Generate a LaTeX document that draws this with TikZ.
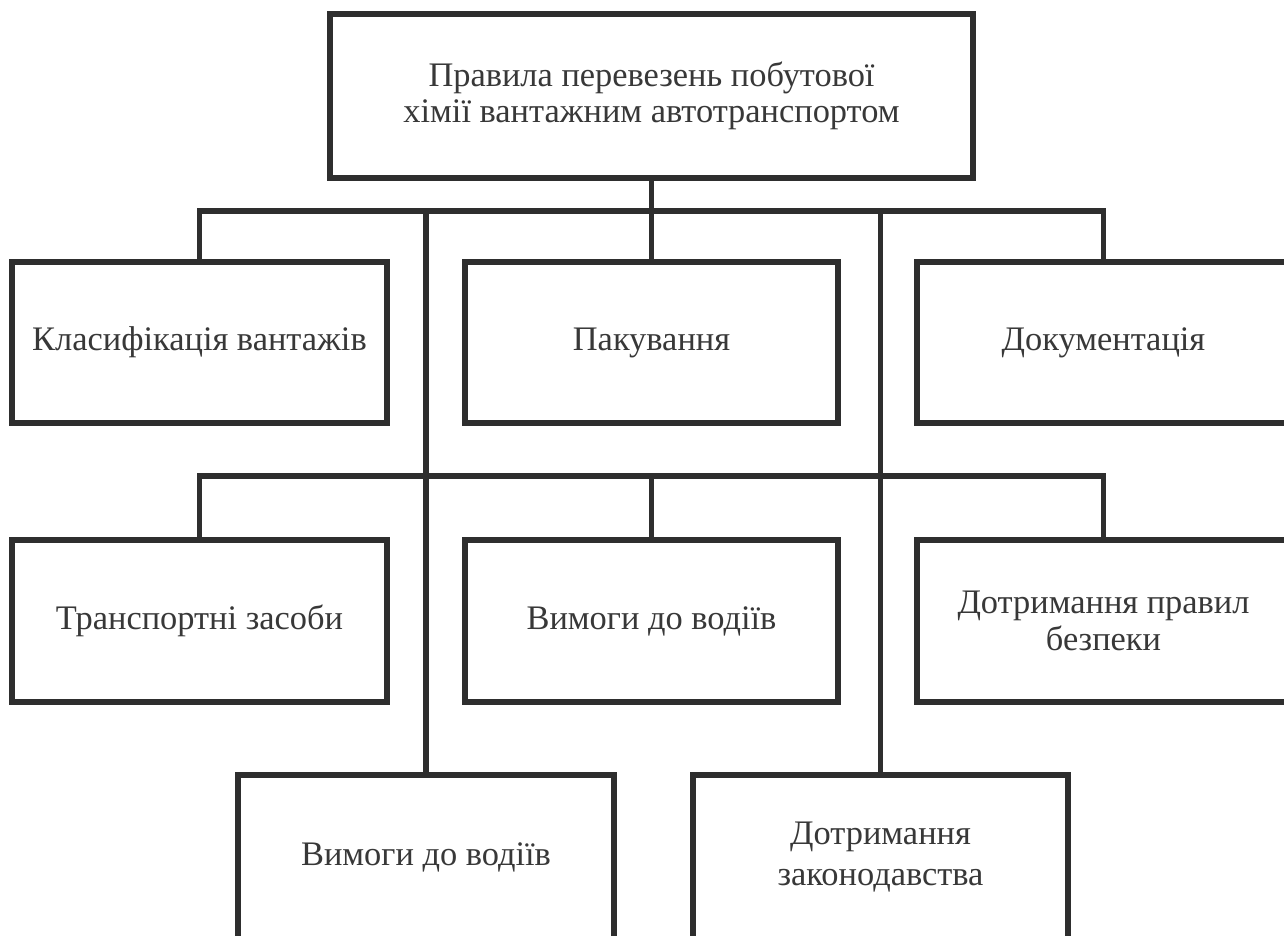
\documentclass[tikz,border=0pt]{standalone}
\usepackage{fontspec}
\setmainfont{Liberation Serif}
\begin{document}
\begin{tikzpicture}[x=0.5pt,y=-0.5pt,
  box/.style={draw=black!82,line width=2.6pt,fill=white,inner sep=0pt,align=center,
    text=black!78,font=\fontsize{17.2}{17.8}\selectfont},
  conn/.style={draw=black!82,line width=2.6pt}]
\useasboundingbox (0,0) rectangle (1284,936);
\clip (0,0) rectangle (1284,936);
\fill[white] (0,0) rectangle (1284,936);
% top
\node[box,minimum width=643*0.5pt,minimum height=164*0.5pt] (top) at (651.5,96) {Правила перевезень побутової\\хімії вантажним автотранспортом};
% row 1
\node[box,minimum width=375*0.5pt,minimum height=161*0.5pt] (a) at (199.5,342.5) {Класифікація вантажів};
\node[box,minimum width=373*0.5pt,minimum height=161*0.5pt] (b) at (651.5,342.5) {Пакування};
\node[box,minimum width=373*0.5pt,minimum height=161*0.5pt] (c) at (1103.5,342.5) {Документація};
% row 2
\node[box,minimum width=375*0.5pt,minimum height=162*0.5pt] (d) at (199.5,621) {Транспортні засоби};
\node[box,minimum width=373*0.5pt,minimum height=162*0.5pt] (e) at (651.5,621) {Вимоги до водіїв};
\node[box,minimum width=373*0.5pt,minimum height=162*0.5pt] (f) at (1103.5,621) {Дотримання правил\\[0.6pt]безпеки};
% row 3
\node[box,minimum width=376*0.5pt,minimum height=164*0.5pt] (g) at (426,857) {Вимоги до водіїв};
\node[box,minimum width=375*0.5pt,minimum height=164*0.5pt] (h) at (880.5,857) {Дотримання\\[3pt]законодавства};
% junctions
\coordinate (j1) at (651.5,211);
\coordinate (j2) at (651.5,476);
\draw[conn] (top.south) -- (b.north);
\draw[conn] (a.north) -- (a.north |- j1) -- (c.north |- j1) -- (c.north);
\draw[conn] (g.north) -- (g.north |- j1);
\draw[conn] (h.north) -- (h.north |- j1);
\draw[conn] (d.north) -- (d.north |- j2) -- (f.north |- j2) -- (f.north);
\draw[conn] (e.north) -- (e.north |- j2);
\end{tikzpicture}
\end{document}
